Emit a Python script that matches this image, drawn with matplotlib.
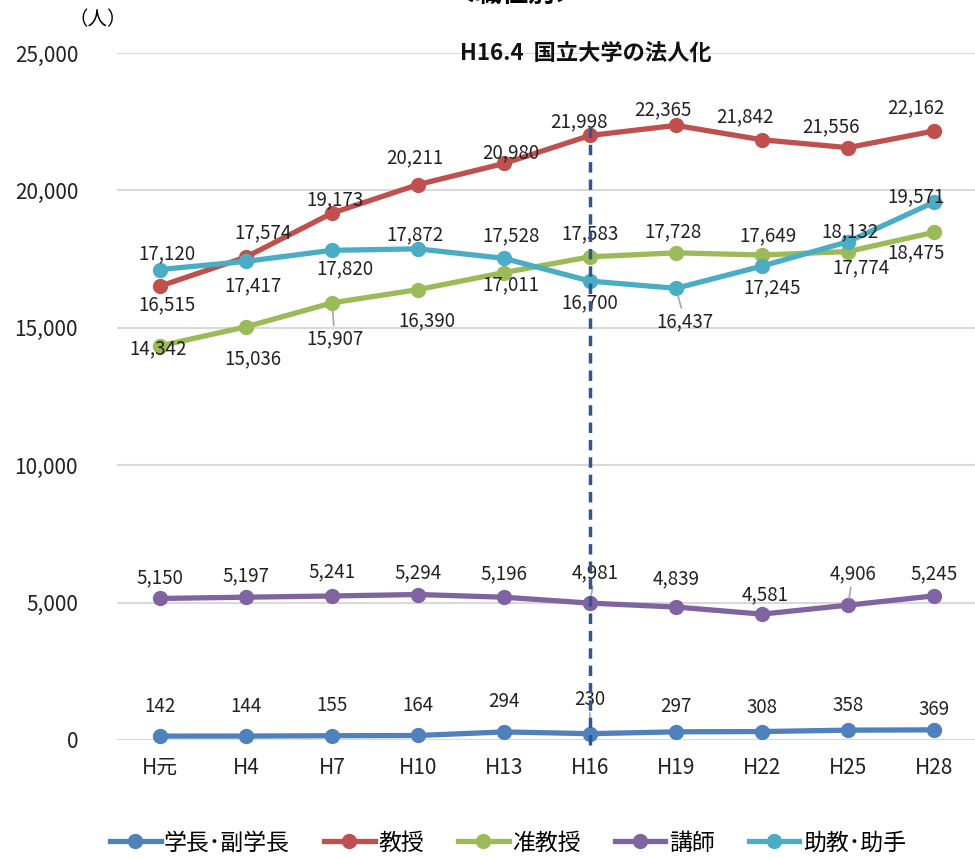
import matplotlib.pyplot as plt
from matplotlib.ticker import FuncFormatter

plt.rcParams['font.family'] = ['Noto Sans CJK JP', 'DejaVu Sans']

# 年度と職位別の教員数
years = ['H元', 'H4', 'H7', 'H10', 'H13', 'H16', 'H19', 'H22', 'H25', 'H28']
gakucho = [142, 144, 155, 164, 294, 230, 297, 308, 358, 369]
kyoju = [16515, 17574, 19173, 20211, 20980, 21998, 22365, 21842, 21556, 22162]
junkyoju = [14342, 15036, 15907, 16390, 17011, 17583, 17728, 17649, 17774, 18475]
koshi = [5150, 5197, 5241, 5294, 5196, 4981, 4839, 4581, 4906, 5245]
jokyo = [17120, 17417, 17820, 17872, 17528, 16700, 16437, 17245, 18132, 19571]

names = ['学長･副学長', '教授', '准教授', '講師', '助教･助手']
colors = ['#4F81BD', '#C0504D', '#9BBB59', '#8064A2', '#4BACC6']
series = [gakucho, kyoju, junkyoju, koshi, jokyo]

# ラベルの位置 (ピクセル, 上が正)
offs = [
    [(0, 30), (0, 30), (0, 30), (0, 30), (0, 30), (0, 34), (0, 25), (0, 24), (0, 25), (0, 20)],
    [(7, -19), (17, 24), (3, 13), (-3, 27), (7, 11), (-11, 14), (-13, 16), (-17, 23), (-17, 21), (-18, 23)],
    [(-2, -3), (7, -32), (3, -36), (9, -31), (7, -12), (0, 23), (-3, 21), (6, 19), (13, -16), (-18, -20)],
    [(0, 21), (0, 21), (0, 24), (0, 22), (0, 23), (5, 30), (0, 28), (3, 19), (5, 31), (0, 22)],
    [(7, 16), (7, -24), (13, -18), (-3, 14), (7, 23), (0, -22), (9, -33), (10, -22), (2, 10), (-18, 5)],
]
leaders = {(0, 5), (2, 2), (3, 5), (3, 8), (4, 6)}

fig = plt.figure(figsize=(9.75, 8.57), dpi=100)
ax = fig.add_axes([0.12, 1 - 740 / 857, 0.882, 687 / 857])

x = list(range(len(years)))
for i, (vals, c, n) in enumerate(zip(series, colors, names)):
    ax.plot(x, vals, color=c, lw=3.8, marker='o', ms=10, label=n, clip_on=False, zorder=3)
    for j, v in enumerate(vals):
        dx, dy = offs[i][j]
        ap = None
        if (i, j) in leaders:
            ap = dict(arrowstyle='-', color='#A6A6A6', lw=1.2, shrinkA=0, shrinkB=5)
        ax.annotate(f'{v:,}', (j, v), xytext=(dx, dy), textcoords='offset pixels',
                    ha='center', va='center', fontsize=13.5, color='#222222',
                    arrowprops=ap, zorder=4)

# 法人化の線
ax.plot([5, 5], [-180, 22400], color='#2F5597', lw=2.5, ls=(0, (3, 2)), clip_on=False, zorder=5)
ax.text(4.95, 25000, 'H16.4  国立大学の法人化', ha='center', va='center',
        fontsize=16, fontweight='bold', color='#111111')

ax.set_xlim(-0.5, 9.5)
ax.set_ylim(0, 25000)
ax.set_yticks(range(0, 25001, 5000))
ax.yaxis.set_major_formatter(FuncFormatter(lambda v, p: f'{int(v):,}'))
ax.set_xticks(x)
ax.set_xticklabels(years)
ax.tick_params(axis='both', length=0, labelsize=15, colors='#222222')
ax.tick_params(axis='y', pad=28)
ax.tick_params(axis='x', pad=12)
ax.grid(axis='y', color='#D9D9D9', lw=1.5)
ax.set_axisbelow(True)
for s in ax.spines.values():
    s.set_visible(False)

fig.text(98 / 975, 1 - 20 / 857, '（人）', ha='center', va='center', fontsize=14)
fig.text(515 / 975, 1 - 8 / 857, '＜職位別＞', ha='center', va='bottom', fontsize=19, fontweight='bold')

ax.legend(loc='center', bbox_to_anchor=(508 / 975, 1 - 843 / 857), bbox_transform=fig.transFigure,
          ncol=5, frameon=False, fontsize=16.5, handlelength=2.2, columnspacing=1.5, handletextpad=0.15)

fig.savefig('out.png', dpi=100)
